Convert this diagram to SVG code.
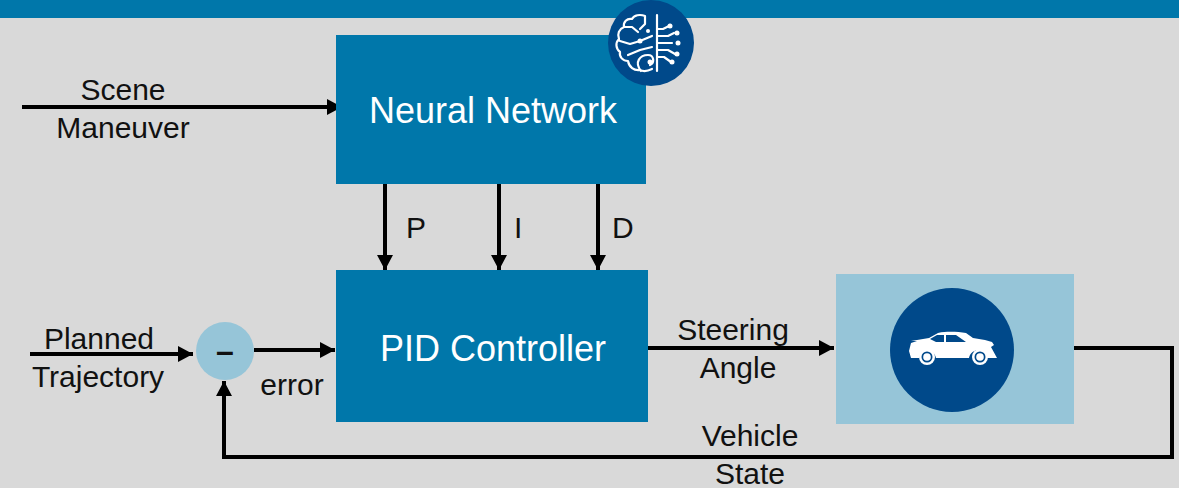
<svg xmlns="http://www.w3.org/2000/svg" width="1179" height="488" viewBox="0 0 1179 488">
<style>
text{font-family:"Liberation Sans",Arial,sans-serif;fill:#111;font-size:30px}
.w{fill:#fff;font-size:36px;text-anchor:middle}
.c{text-anchor:middle}
.box{fill:#0077aa}
.lt{fill:#96c5d8}
.dk{fill:#00498a}
.ln{fill:none;stroke:#000;stroke-width:4}
.ic{fill:none;stroke:#fff;stroke-width:2.2;stroke-linecap:round;stroke-linejoin:round}
.dot{fill:#fff}
</style>
<defs>
<marker id="a" markerUnits="userSpaceOnUse" markerWidth="16" markerHeight="16" refX="15" refY="8" orient="auto"><path d="M0 0L15 8L0 16Z" fill="#000"/></marker>
</defs>
<rect width="1179" height="488" fill="#d9d9d9"/>
<rect width="1179" height="18" fill="#0077aa"/>
<g id="connectors">
<path class="ln" d="M22 107H342" marker-end="url(#a)"/>
<path class="ln" d="M385 183V270" marker-end="url(#a)"/>
<path class="ln" d="M499 183V270" marker-end="url(#a)"/>
<path class="ln" d="M598 183V270" marker-end="url(#a)"/>
<path class="ln" d="M30 354H193" marker-end="url(#a)"/>
<path class="ln" d="M254 350H335" marker-end="url(#a)"/>
<path class="ln" d="M647 348H834" marker-end="url(#a)"/>
<path class="ln" d="M1069 348H1172V457H224V381" marker-end="url(#a)"/>
</g>
<g id="neural-network">
<rect class="box" x="336" y="35" width="310" height="149"/>
<text class="w" x="493" y="123">Neural Network</text>
</g>
<g id="brain-icon">
<circle class="dk" cx="651" cy="43" r="43"/>
<path class="ic" d="M657 15V71M645 16c-5-2-11-1-13 3c-5-1-9 3-8 8c-5 2-7 7-5 12c-4 4-3 10 1 13c-1 5 3 9 8 9c1 6 6 10 12 9c4 2 8 1 12-1M657 43H672M657 36H668L674 33M657 29H663L669 26L670 25M657 50H668L675 54M657 57H664L671 62M645 16V24L640 29M624 27H632L638 32M620 41L630 44L640 41L652 36M628 55L640 50L652 47M641 71C634 62 640 55 648 55C654 55 655 63 650 65"/>
<circle class="dot" cx="670" cy="26" r="2.5"/><circle class="dot" cx="677" cy="33" r="2.5"/><circle class="dot" cx="678" cy="43" r="2.5"/><circle class="dot" cx="677" cy="54" r="2.5"/><circle class="dot" cx="672" cy="62" r="2.5"/><circle class="dot" cx="640" cy="41" r="2.5"/><circle class="dot" cx="650" cy="62" r="2.5"/><circle class="dot" cx="648" cy="31" r="2"/>
</g>
<g id="pid-controller">
<rect class="box" x="336" y="270" width="312" height="152"/>
<text class="w" x="493" y="361">PID Controller</text>
</g>
<g id="error-sum">
<circle class="lt" cx="225" cy="351" r="29"/>
<text x="225" y="362" class="c" style="font-size:32px;font-weight:bold">–</text>
</g>
<g id="vehicle">
<rect class="lt" x="836" y="274" width="238" height="150"/>
<circle class="dk" cx="952" cy="350" r="62"/>
<path fill="#fff" d="M909 351L911 343L917 341L911 341L917 340L929 338L938 333C948 331 958 332 966 333L973 338L985 340L992 342L994 345L991 347L997 358H985C983 348 971 348 969 358H936C934 348 922 348 919 358H911Z"/>
<path fill="#00498a" d="M930 339L937 335H944V342H936ZM946 335H956L966 342H946Z"/>
<g fill="#fff"><circle cx="927" cy="357" r="8"/><circle cx="980" cy="357" r="8"/></g>
<g fill="#00498a"><circle cx="927" cy="357" r="5.5"/><circle cx="980" cy="357" r="5.5"/></g>
<g fill="#fff"><circle cx="927" cy="357" r="3.8"/><circle cx="980" cy="357" r="3.8"/></g>
</g>
<g id="labels">
<text class="c" x="123" y="100">Scene</text>
<text class="c" x="123" y="138">Maneuver</text>
<text x="406" y="238">P</text>
<text x="514" y="238">I</text>
<text x="612" y="238">D</text>
<text class="c" x="99" y="349">Planned</text>
<text class="c" x="98" y="387">Trajectory</text>
<text class="c" x="292" y="395">error</text>
<text class="c" x="733" y="340">Steering</text>
<text class="c" x="738" y="378">Angle</text>
<text class="c" x="750" y="446">Vehicle</text>
<text class="c" x="750" y="484">State</text>
</g>
</svg>
